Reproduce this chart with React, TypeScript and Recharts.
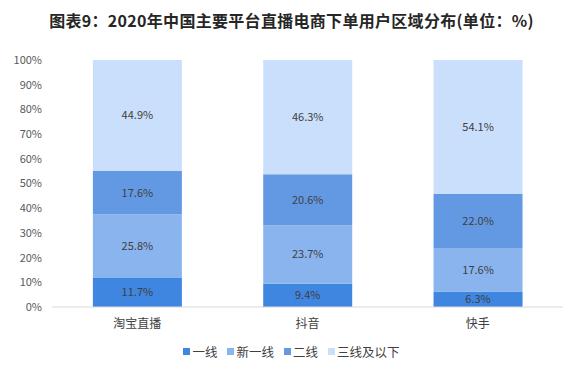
import React from "react";
import { BarChart, Bar, XAxis, YAxis, LabelList } from "recharts";

const categories = ["淘宝直播", "抖音", "快手"];
const tier1 = [11.7, 9.4, 6.3];
const newTier1 = [25.8, 23.7, 17.6];
const tier2 = [17.6, 20.6, 22.0];
const tier3Below = [44.9, 46.3, 54.1];
const yTicks = [0, 10, 20, 30, 40, 50, 60, 70, 80, 90, 100];

const seriesNames = ["一线", "新一线", "二线", "三线及以下"];
const colors = ["#3F86E0", "#8AB4EE", "#6399E3", "#CADFFB"];

const data = categories.map((c, i) => ({
  name: c,
  s0: tier1[i],
  s1: newTier1[i],
  s2: tier2[i],
  s3: tier3Below[i],
}));

const FONT = "'Microsoft YaHei', 'Noto Sans CJK SC', sans-serif";

const renderLegend = () => (
  <div style={{ display: "flex", justifyContent: "center", fontFamily: FONT, fontSize: 12.5, color: "#404040" }}>
    {seriesNames.map((n, i) => (
      <div key={n} style={{ display: "flex", alignItems: "center", marginRight: i < 3 ? 10 : 0 }}>
        <span style={{ width: 7, height: 7, background: colors[i], display: "inline-block", marginRight: 2 }} />
        <span>{n}</span>
      </div>
    ))}
  </div>
);

export default function App() {
  return (
    <div style={{ position: "absolute", left: 0, top: 0, width: 583, height: 376, background: "#fff" }}>
      <div
        style={{
          position: "absolute",
          top: 8,
          left: 0,
          width: 583,
          textAlign: "center",
          fontFamily: FONT,
          fontWeight: "bold",
          fontSize: 16,
          letterSpacing: 0.3,
          color: "#262626",
        }}
      >
        图表9：2020年中国主要平台直播电商下单用户区域分布(单位：%)
      </div>
      <div style={{ position: "absolute", left: 0, top: 0 }}>
        <BarChart
          width={583}
          height={376}
          data={data}
          margin={{ top: 60, right: 20, bottom: 39, left: 0 }}
          barCategoryGap="24%"
        >
          <XAxis
            dataKey="name"
            height={30}
            tickLine={false}
            axisLine={{ stroke: "#D9D9D9" }}
            tick={{ fill: "#404040", fontSize: 12, fontFamily: FONT }}
            tickSize={0}
            tickMargin={12}
          />
          <YAxis
            width={52}
            domain={[0, 100]}
            ticks={yTicks}
            interval={0}
            axisLine={false}
            tickLine={false}
            tickFormatter={(v) => `${v}%`}
            tick={{ fill: "#595959", fontSize: 11, fontFamily: FONT }}
            tickMargin={4}
            tickSize={6}
          />
          {["s0", "s1", "s2", "s3"].map((k, i) => (
            <Bar key={k} dataKey={k} stackId="a" fill={colors[i]} isAnimationActive={false} name={seriesNames[i]}>
              <LabelList
                dataKey={k}
                position="center"
                formatter={(v: number) => `${v.toFixed(1)}%`}
                style={{ fill: "#404040", fontSize: 11, fontFamily: FONT }}
              />
            </Bar>
          ))}
        </BarChart>
      </div>
      <div style={{ position: "absolute", left: 0, top: 342, width: 583 }}>{renderLegend()}</div>
    </div>
  );
}
